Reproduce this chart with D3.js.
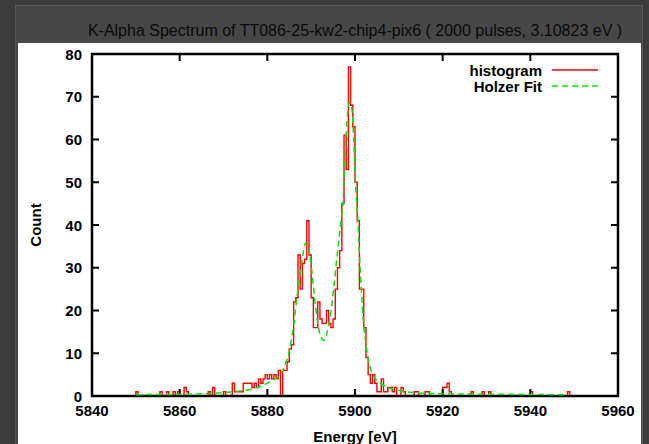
<!DOCTYPE html>
<html>
<head>
<meta charset="utf-8">
<script src="https://cdn.jsdelivr.net/npm/d3@7"></script>
<style>
  html, body { margin: 0; padding: 0; background: #3c3c3c; overflow: hidden; }
  svg { display: block; }
</style>
</head>
<body>
<div id="chart"></div>
<script>
// K-Alpha 能谱：0.5 eV 直方图 (红) + Holzer 拟合 (绿虚线)
const BIN_START = 5849.5;   // 第一个列出的 bin 左沿, eV
const BIN_W = 0.5;
// 每行 10 个 bin = 5 eV
const counts = [
  0, 1, 0, 0, 0, 0, 0, 0, 0, 0,        // 5849.5
  0, 0, 1, 0, 0, 1, 0, 0, 1, 0,        // 5854.5
  1, 0, 0, 2, 1, 0, 0, 0, 0, 0,        // 5859.5
  0, 0, 0, 0, 1, 0, 2, 0, 0, 0,        // 5864.5
  0, 1, 0, 0, 0, 3, 1, 1, 1, 1,        // 5869.5
  3, 3, 3, 3, 2, 3, 2, 4, 3, 4,        // 5874.5
  5, 4, 5, 4, 5, 4, 6, 0, 6, 6,        // 5879.5
  8, 11, 12, 22, 23, 33, 25, 31, 32, 41, // 5884.5
  33, 23, 16, 16, 22, 18, 17, 17, 20, 17, // 5889.5
  16, 18, 25, 30, 34, 45, 61, 53, 77, 68, // 5894.5
  63, 50, 41, 25, 25, 16, 9, 5, 3, 5,   // 5899.5
  3, 1, 1, 4, 1, 1, 2, 2, 1, 2,        // 5904.5
  0, 0, 2, 1, 0, 0, 0, 0, 1, 1,        // 5909.5
  0, 0, 0, 1, 1, 0, 0, 0, 0, 0,        // 5914.5
  0, 2, 2, 3, 1, 0, 0, 0, 0, 0,        // 5919.5
  0, 0, 0, 0, 1, 0, 0, 0, 0, 1,        // 5924.5
  0, 0, 1, 0, 0, 0, 0, 0, 0, 0,        // 5929.5
  0, 0, 0, 0, 0, 0, 0, 0, 0, 0,        // 5934.5
  0, 1, 0, 0, 0, 0, 0, 0, 0, 0,        // 5939.5
  0, 0, 0, 0, 0, 0, 0, 0, 1, 0         // 5944.5
];
// 拟合曲线读点
const fitE = [5850, 5855, 5860, 5865, 5868, 5871, 5874, 5876, 5878, 5880,
  5881.5, 5883, 5884, 5885, 5886, 5886.8, 5887.5, 5888.2, 5888.7, 5889.2,
  5889.7, 5890.2, 5891, 5891.7, 5892.5, 5893, 5893.6, 5894.4, 5895.2, 5895.9,
  5896.7, 5897.3, 5897.8, 5898.3, 5898.8, 5899.3, 5899.6, 5900.1, 5900.7, 5901.0,
  5901.4, 5901.9, 5902.8, 5903.9, 5905.8, 5907.5, 5909.6, 5913.4, 5917.3, 5921,
  5926, 5932.5, 5940, 5948];
const fitN = [0.3, 0.35, 0.4, 0.5, 0.6, 0.9, 1.2, 1.5, 2.1, 3.0,
  3.8, 5.0, 7.2, 10.5, 16.5, 23.5, 28.8, 33.5, 35.8, 35.5,
  33, 28.8, 21, 15.9, 13.3, 13.0, 14.7, 19, 25.7, 32.7,
  40, 46, 57, 66, 68.7, 67, 62.5, 50, 40.5, 33.5,
  25.7, 17.8, 10, 5.3, 3, 2, 1.4, 0.8, 0.6, 0.5,
  0.45, 0.4, 0.35, 0.3];
const xTicks = [5840, 5860, 5880, 5900, 5920, 5940, 5960];
const yTicks = [0, 10, 20, 30, 40, 50, 60, 70, 80];
const TITLE = "K-Alpha Spectrum of TT086-25-kw2-chip4-pix6 ( 2000 pulses, 3.10823 eV )";
const legendItems = [["histogram", "#ff0000", null], ["Holzer Fit", "#00e600", "6,4"]];

const W = 649, H = 444;
const ML = 92, MR = 618, MT = 54, MB = 396;
const FONT = "'Liberation Sans', Arial, Helvetica, sans-serif";

const svg = d3.select("#chart").append("svg").attr("width", W).attr("height", H);

// 窗口外框 + 标题栏
svg.append("rect").attr("x", 0).attr("y", 0).attr("width", W).attr("height", H).attr("fill", "#3c3c3c");
svg.append("rect").attr("x", 15.5).attr("y", 5.5).attr("width", 627).attr("height", 450)
  .attr("fill", "#474747").attr("stroke", "#595959");
svg.append("rect").attr("x", 18).attr("y", 43).attr("width", 623).attr("height", 410).attr("fill", "#fff");
svg.append("text").attr("x", (ML + MR) / 2).attr("y", 36).attr("text-anchor", "middle")
  .attr("style", `font:16px ${FONT};fill:#0a0a0a`).text(TITLE);

const x = d3.scaleLinear().domain([5840, 5960]).range([ML, MR]);
const y = d3.scaleLinear().domain([0, 80]).range([MB, MT]);

// 直方图（阶梯）
const pts = [[BIN_START, 0]];
counts.forEach((n, i) => {
  const e0 = BIN_START + i * BIN_W;
  pts.push([e0, n], [e0 + BIN_W, n]);
});
pts.push([BIN_START + counts.length * BIN_W, 0]);
svg.append("path")
  .attr("d", d3.line().x(d => x(d[0])).y(d => y(d[1]))(pts))
  .attr("fill", "none").attr("stroke", "#ff0000").attr("stroke-width", 1.4)
  .attr("stroke-linejoin", "miter");

// 边框 + 刻度（四边朝内）
const frame = svg.append("g");
frame.append("rect").attr("x", ML).attr("y", MT).attr("width", MR - ML).attr("height", MB - MT)
  .attr("fill", "none").attr("stroke", "#000").attr("stroke-width", 2.5);
const TL = 7;
xTicks.forEach(v => {
  frame.append("line").attr("x1", x(v)).attr("x2", x(v)).attr("y1", MB).attr("y2", MB - TL)
    .attr("stroke", "#000").attr("stroke-width", 2);
  frame.append("line").attr("x1", x(v)).attr("x2", x(v)).attr("y1", MT).attr("y2", MT + TL)
    .attr("stroke", "#000").attr("stroke-width", 2);
  frame.append("text").attr("x", x(v)).attr("y", MB + 20).attr("text-anchor", "middle")
    .attr("style", `font:bold 15px ${FONT};fill:#000`).text(v);
});
yTicks.forEach(v => {
  frame.append("line").attr("x1", ML).attr("x2", ML + TL).attr("y1", y(v)).attr("y2", y(v))
    .attr("stroke", "#000").attr("stroke-width", 2);
  frame.append("line").attr("x1", MR).attr("x2", MR - TL).attr("y1", y(v)).attr("y2", y(v))
    .attr("stroke", "#000").attr("stroke-width", 2);
  frame.append("text").attr("x", ML - 10).attr("y", y(v) + 5.5).attr("text-anchor", "end")
    .attr("style", `font:bold 15px ${FONT};fill:#000`).text(v);
});

// 拟合曲线
svg.append("path")
  .attr("d", d3.line().curve(d3.curveMonotoneX).x((d, i) => x(fitE[i])).y((d, i) => y(fitN[i]))(fitE))
  .attr("fill", "none").attr("stroke", "#00e600").attr("stroke-width", 1.5)
  .attr("stroke-dasharray", "6,4");

// 轴标题
svg.append("text").attr("transform", `translate(41, ${(MT + MB) / 2}) rotate(-90)`)
  .attr("text-anchor", "middle").attr("style", `font:bold 15px ${FONT};fill:#000`).text("Count");
svg.append("text").attr("x", (ML + MR) / 2).attr("y", 442).attr("text-anchor", "middle")
  .attr("style", `font:bold 15px ${FONT};fill:#000`).text("Energy [eV]");

// 图例
const lg = svg.append("g");
legendItems.forEach(([t, c, dash], i) => {
  const ly = 70 + i * 16;
  lg.append("text").attr("x", 542).attr("y", ly + 5.5).attr("text-anchor", "end")
    .attr("style", `font:bold 15px ${FONT};fill:#000`).text(t);
  lg.append("line").attr("x1", 552).attr("x2", 598).attr("y1", ly).attr("y2", ly)
    .attr("stroke", c).attr("stroke-width", 1.4).attr("stroke-dasharray", dash);
});
</script>
</body>
</html>
